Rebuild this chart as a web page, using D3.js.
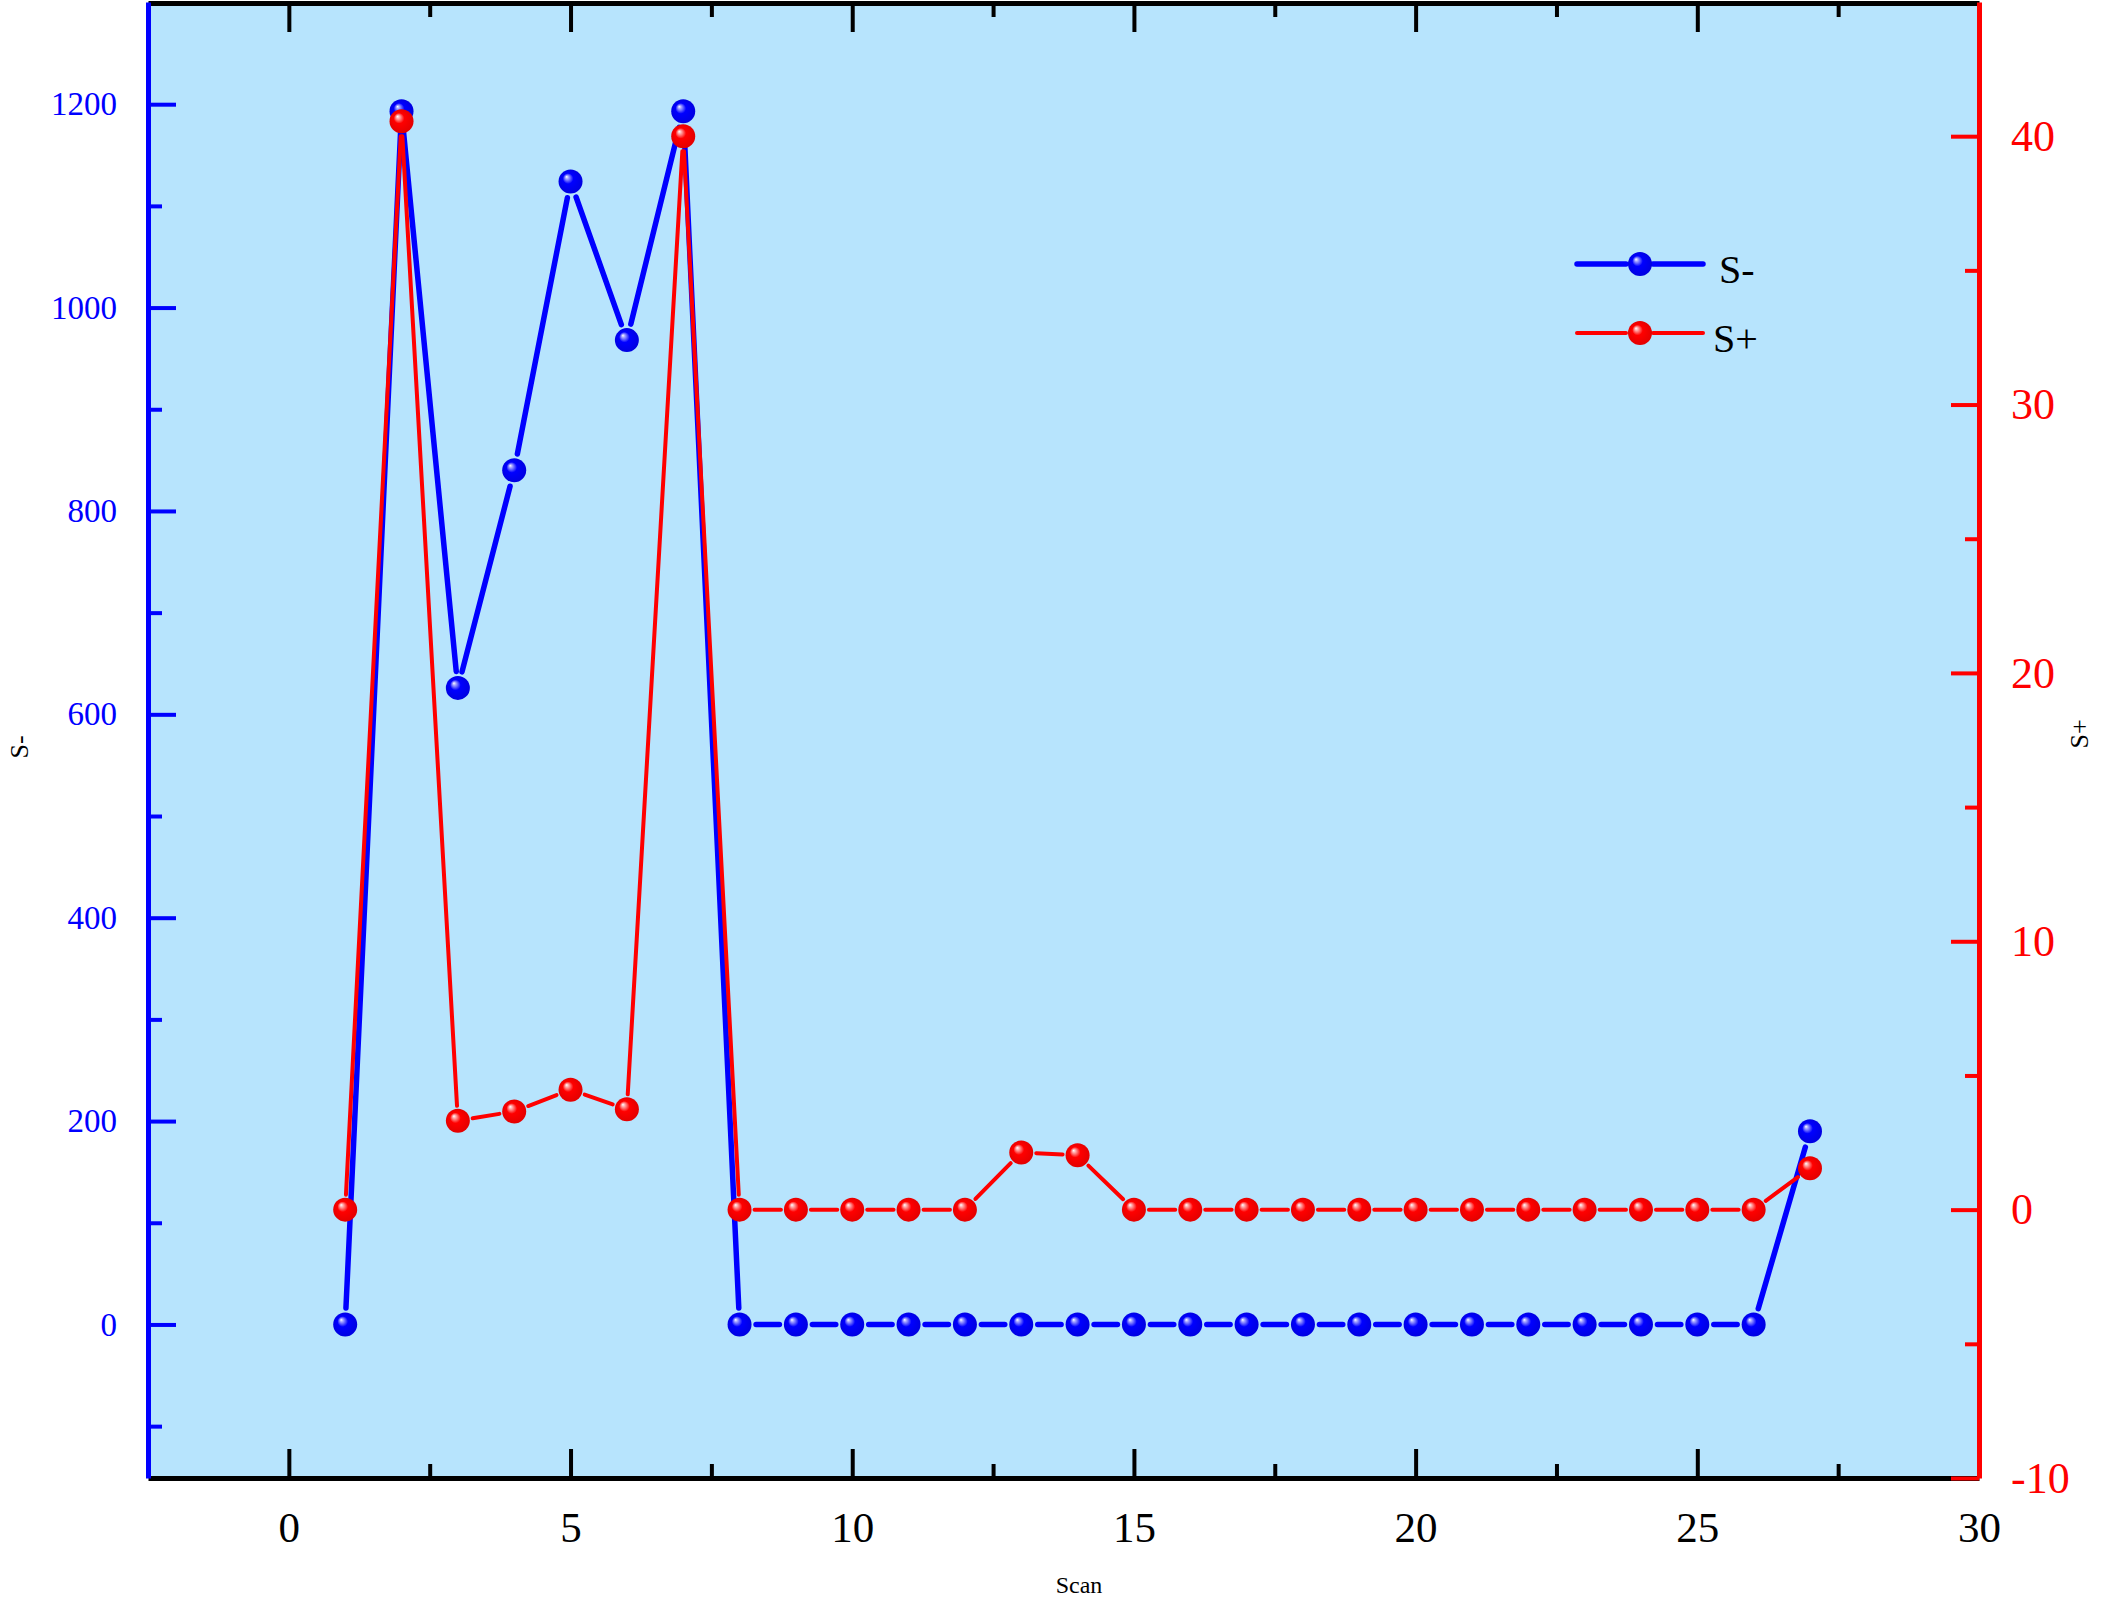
<!doctype html>
<html lang="en">
  <head>
    <meta charset="UTF-8" />
    <title>S- / S+ by Scan</title>
    <script src="https://d3js.org/d3.v7.min.js"></script>
    <style>
      body {
        margin: 0;
        padding: 0;
        background: #fff;
      }
      text {
        font-family: 'Liberation Serif', 'Times New Roman', serif;
      }
    </style>
  </head>
  <body>
    <svg id="chart" width="2101" height="1602"></svg>

    <script>
      // values
      const scan = d3.range(1, 28);
      const sMinus = [
        0, 1193, 626, 840, 1124, 968, 1193,
        0, 0, 0, 0, 0, 0, 0, 0, 0, 0, 0, 0, 0, 0, 0, 0, 0, 0, 0,
        190,
      ];
      const sPlus = [
        0, 40.56, 3.31, 3.66, 4.47, 3.74, 40,
        0, 0, 0, 0, 0,
        2.13, 2.03,
        0, 0, 0, 0, 0, 0, 0, 0, 0, 0, 0, 0,
        1.54,
      ];
      const xMajor = [0, 5, 10, 15, 20, 25, 30];
      const xMinor = [2.5, 7.5, 12.5, 17.5, 22.5, 27.5];
      const leftMajor = [0, 200, 400, 600, 800, 1000, 1200];
      const leftMinor = [-100, 100, 300, 500, 700, 900, 1100];
      const rightMajor = [-10, 0, 10, 20, 30, 40];
      const rightMinor = [-5, 5, 15, 25, 35];

      const svg = d3.select('#chart');

      const plotL = 148,
        plotR = 1979,
        plotT = 2,
        plotB = 1478;

      const x = d3.scaleLinear().domain([-2.5, 30]).range([plotL, plotR]);
      const yL = d3.scaleLinear().domain([-151, 1300.5]).range([plotB, plotT]);
      const yR = d3.scaleLinear().domain([-10, 45]).range([plotB, plotT]);

      // plain numbers, hyphen minus like the original
      const plain = (d) => String(d);

      // plot background
      svg
        .append('rect')
        .attr('x', plotL)
        .attr('y', plotT)
        .attr('width', plotR - plotL)
        .attr('height', plotB - plotT)
        .attr('fill', '#b7e4fd');

      // sphere gradients
      const defs = svg.append('defs');
      function ball(id, mid, col, edge) {
        const g = defs
          .append('radialGradient')
          .attr('id', id)
          .attr('cx', '0.5')
          .attr('cy', '0.5')
          .attr('r', '0.55')
          .attr('fx', '0.33')
          .attr('fy', '0.3');
        g.append('stop').attr('offset', '0').attr('stop-color', '#ffffff');
        g.append('stop').attr('offset', '0.12').attr('stop-color', mid);
        g.append('stop').attr('offset', '0.4').attr('stop-color', col);
        g.append('stop').attr('offset', '1').attr('stop-color', edge);
      }
      ball('ballBlue', '#a8a8ff', '#0000ff', '#0000dd');
      ball('ballRed', '#ffb0b0', '#ff0000', '#e00000');

      // axes
      function styleAxis(g, color, width) {
        g.selectAll('path').attr('stroke', color).attr('stroke-width', width);
        g.selectAll('line').attr('stroke', color).attr('stroke-width', 4);
      }

      // bottom
      const gb = svg
        .append('g')
        .attr('transform', `translate(0,${plotB})`)
        .call(
          d3
            .axisBottom(x)
            .tickValues(xMajor)
            .tickFormat(plain)
            .tickSize(-29)
            .tickSizeOuter(0)
            .tickPadding(33),
        );
      styleAxis(gb, '#000', 5);
      gb.selectAll('text').attr('fill', '#000').style('font-size', '43px');
      const gbm = svg
        .append('g')
        .attr('transform', `translate(0,${plotB})`)
        .call(d3.axisBottom(x).tickValues(xMinor).tickSize(-14).tickFormat(''));
      gbm.select('.domain').remove();
      styleAxis(gbm, '#000', 5);

      // top (mirror, no labels)
      const gt = svg
        .append('g')
        .attr('transform', `translate(0,${plotT + 1})`)
        .call(d3.axisTop(x).tickValues(xMajor).tickSize(-29).tickSizeOuter(0).tickFormat(''));
      styleAxis(gt, '#000', 5);
      const gtm = svg
        .append('g')
        .attr('transform', `translate(0,${plotT + 1})`)
        .call(d3.axisTop(x).tickValues(xMinor).tickSize(-14).tickFormat(''));
      gtm.select('.domain').remove();
      styleAxis(gtm, '#000', 5);

      // left
      const gl = svg
        .append('g')
        .attr('transform', `translate(${plotL},0)`)
        .call(
          d3
            .axisLeft(yL)
            .tickValues(leftMajor)
            .tickFormat(plain)
            .tickSize(-28)
            .tickSizeOuter(0)
            .tickPadding(31),
        );
      styleAxis(gl, '#0000ff', 5);
      gl.selectAll('text').attr('fill', '#0000ff').style('font-size', '33px');
      const glm = svg
        .append('g')
        .attr('transform', `translate(${plotL},0)`)
        .call(d3.axisLeft(yL).tickValues(leftMinor).tickSize(-14).tickFormat(''));
      glm.select('.domain').remove();
      styleAxis(glm, '#0000ff', 5);

      // right
      const gr = svg
        .append('g')
        .attr('transform', `translate(${plotR},0)`)
        .call(
          d3
            .axisRight(yR)
            .tickValues(rightMajor)
            .tickFormat(plain)
            .tickSize(-28)
            .tickSizeOuter(0)
            .tickPadding(32),
        );
      styleAxis(gr, '#ff0000', 5);
      gr.selectAll('text').attr('fill', '#ff0000').style('font-size', '44px');
      const grm = svg
        .append('g')
        .attr('transform', `translate(${plotR},0)`)
        .call(d3.axisRight(yR).tickValues(rightMinor).tickSize(-14).tickFormat(''));
      grm.select('.domain').remove();
      styleAxis(grm, '#ff0000', 5);

      // series: lines broken around each marker, like the original
      const R = 12;
      function drawSeries(vals, yScale, color, lw, grad, gap) {
        const pts = vals.map((v, i) => [x(scan[i]), yScale(v)]);
        const segs = [];
        for (let i = 0; i < pts.length - 1; i++) {
          const [x1, y1] = pts[i];
          const [x2, y2] = pts[i + 1];
          const d = Math.hypot(x2 - x1, y2 - y1);
          if (d <= 2 * gap) continue;
          const ux = (x2 - x1) / d,
            uy = (y2 - y1) / d;
          segs.push([x1 + ux * gap, y1 + uy * gap, x2 - ux * gap, y2 - uy * gap]);
        }
        svg
          .append('g')
          .selectAll('line')
          .data(segs)
          .join('line')
          .attr('x1', (d) => d[0])
          .attr('y1', (d) => d[1])
          .attr('x2', (d) => d[2])
          .attr('y2', (d) => d[3])
          .attr('stroke', color)
          .attr('stroke-width', lw)
          .attr('stroke-linecap', 'round');
        svg
          .append('g')
          .selectAll('circle')
          .data(pts)
          .join('circle')
          .attr('cx', (d) => d[0])
          .attr('cy', (d) => d[1])
          .attr('r', R)
          .attr('fill', `url(#${grad})`);
      }
      drawSeries(sMinus, yL, '#0000ff', 5.5, 'ballBlue', 16.5);
      drawSeries(sPlus, yR, '#ff0000', 4, 'ballRed', 15);

      // legend
      const legend = [
        { name: 'S-', color: '#0000ff', lw: 5.5, grad: 'ballBlue', y: 264, tx: 1719 },
        { name: 'S+', color: '#ff0000', lw: 4, grad: 'ballRed', y: 333, tx: 1713 },
      ];
      const lg = svg.append('g');
      legend.forEach((d) => {
        lg.append('line')
          .attr('x1', 1577)
          .attr('x2', 1626)
          .attr('y1', d.y)
          .attr('y2', d.y)
          .attr('stroke', d.color)
          .attr('stroke-width', d.lw)
          .attr('stroke-linecap', 'round');
        lg.append('line')
          .attr('x1', 1653)
          .attr('x2', 1703)
          .attr('y1', d.y)
          .attr('y2', d.y)
          .attr('stroke', d.color)
          .attr('stroke-width', d.lw)
          .attr('stroke-linecap', 'round');
        lg.append('circle')
          .attr('cx', 1640)
          .attr('cy', d.y)
          .attr('r', R)
          .attr('fill', `url(#${d.grad})`);
        lg.append('text')
          .attr('x', d.tx)
          .attr('y', d.y + 19)
          .style('font-size', '40px')
          .attr('fill', '#000')
          .text(d.name);
      });

      // axis titles
      svg
        .append('text')
        .attr('x', 1079)
        .attr('y', 1593)
        .attr('text-anchor', 'middle')
        .style('font-size', '24px')
        .text('Scan');
      svg
        .append('text')
        .attr('transform', 'translate(28,747) rotate(-90)')
        .attr('text-anchor', 'middle')
        .style('font-size', '26px')
        .text('S-');
      svg
        .append('text')
        .attr('transform', 'translate(2088,734) rotate(-90)')
        .attr('text-anchor', 'middle')
        .style('font-size', '26px')
        .text('S+');
    </script>
  </body>
</html>
